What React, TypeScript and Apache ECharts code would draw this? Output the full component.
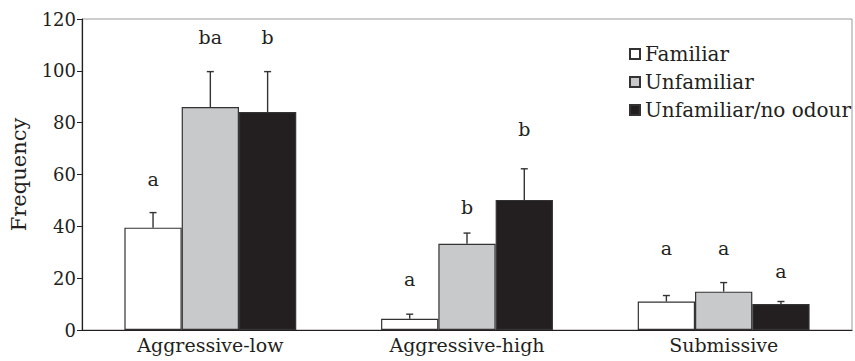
import React, { useEffect, useRef } from "react";
import * as echarts from "echarts";

const categories = ["Aggressive-low", "Aggressive-high", "Submissive"];
const seriesNames = ["Familiar", "Unfamiliar", "Unfamiliar/no odour"];
const familiar = [39.5, 4.3, 11.0];
const unfamiliar = [86.0, 33.3, 14.8];
const noOdour = [84.1, 50.2, 10.0];
const familiarSE = [5.8, 1.8, 2.3];
const unfamiliarSE = [13.7, 4.1, 3.5];
const noOdourSE = [15.6, 12.0, 1.0];
const familiarLetters = ["a", "a", "a"];
const unfamiliarLetters = ["ba", "b", "a"];
const noOdourLetters = ["b", "b", "a"];
const familiarLetterAt = [58.1, 19.7, 31.7];
const unfamiliarLetterAt = [113, 47.6, 31.7];
const noOdourLetterAt = [113, 77.4, 22.8];
const yTicks = [0, 20, 40, 60, 80, 100, 120];

const FONT = "DejaVu Serif";
const BAR_RATIO = 0.2232;
const colors = ["#ffffff", "#c8c9cb", "#231f20"];

export default function App() {
  const ref = useRef<HTMLDivElement>(null);
  useEffect(() => {
    if (!ref.current) return;
    const chart = echarts.init(ref.current, null, { renderer: "svg" });
    const values = [familiar, unfamiliar, noOdour];
    const ses = [familiarSE, unfamiliarSE, noOdourSE];
    const letters = [familiarLetters, unfamiliarLetters, noOdourLetters];
    const letterAt = [familiarLetterAt, unfamiliarLetterAt, noOdourLetterAt];

    const barSeries = seriesNames.map((name, k) => ({
      name,
      type: "bar",
      data: values[k],
      barWidth: BAR_RATIO * 100 + "%",
      barGap: "0%",
      itemStyle: { color: colors[k], borderColor: "#333333", borderWidth: 1.2 },
      z: 2,
    }));

    const errSeries = seriesNames.map((name, k) => ({
      name: name + "-err",
      type: "custom",
      z: 3,
      data: values[k].map((v, i) => [i, v, v + ses[k][i], letterAt[k][i]]),
      renderItem: (params: any, api: any) => {
        const band = api.size([1, 0])[0];
        const off = (k - 1) * band * BAR_RATIO;
        const idx = api.value(0);
        const base = api.coord([idx, api.value(1)]);
        const top = api.coord([idx, api.value(2)]);
        const lt = api.coord([idx, api.value(3)]);
        const x = base[0] + off;
        const style = { stroke: "#333333", lineWidth: 1.4 };
        return {
          type: "group",
          children: [
            { type: "line", shape: { x1: x, y1: base[1], x2: x, y2: top[1] }, style },
            { type: "line", shape: { x1: x - 3.5, y1: top[1], x2: x + 3.5, y2: top[1] }, style },
            {
              type: "text",
              x,
              y: lt[1],
              style: {
                text: letters[k][idx],
                fill: "#231f20",
                font: `19px "${FONT}"`,
                align: "center",
                verticalAlign: "middle",
              },
            },
          ],
        };
      },
    }));

    chart.setOption({
      animation: false,
      textStyle: { fontFamily: FONT },
      grid: {
        left: 82,
        right: 3,
        top: 19,
        bottom: 31,
        show: true,
        borderColor: "#9a9a9a",
        borderWidth: 1,
        backgroundColor: "transparent",
      },
      legend: {
        orient: "vertical",
        left: 624,
        top: 38,
        data: seriesNames,
        icon: "rect",
        itemWidth: 10,
        itemHeight: 10,
        itemGap: 6,
        textStyle: { fontFamily: FONT, fontSize: 20, color: "#231f20", lineHeight: 22 },
      },
      xAxis: {
        type: "category",
        data: categories,
        axisLine: { lineStyle: { color: "#231f20", width: 1.2 } },
        axisTick: { show: false },
        axisLabel: { fontFamily: FONT, fontSize: 19, color: "#231f20", margin: 5 },
      },
      yAxis: {
        type: "value",
        min: yTicks[0],
        max: yTicks[yTicks.length - 1],
        interval: 20,
        name: "Frequency",
        nameLocation: "middle",
        nameGap: 53,
        nameTextStyle: { fontFamily: FONT, fontSize: 21, color: "#231f20" },
        splitLine: { show: false },
        axisLine: { show: true, lineStyle: { color: "#231f20", width: 1.2 } },
        axisTick: { show: true, length: 5, lineStyle: { color: "#231f20" } },
        axisLabel: { fontFamily: FONT, fontSize: 18, color: "#231f20", margin: 6 },
      },
      series: [...barSeries, ...errSeries],
    });
    return () => chart.dispose();
  }, []);
  return (
    <div
      ref={ref}
      style={{ position: "fixed", left: 0, top: 0, width: 855, height: 361, background: "#fff" }}
    />
  );
}
